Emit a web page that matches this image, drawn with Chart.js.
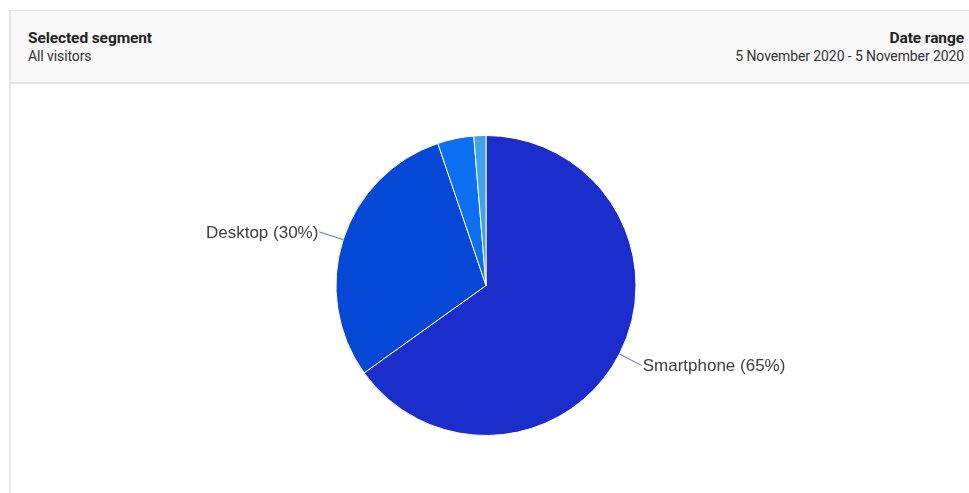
<!DOCTYPE html>
<html>
<head>
<meta charset="utf-8">
<script src="https://cdn.jsdelivr.net/npm/chart.js@4/dist/chart.umd.min.js"></script>
<style>
  html, body { margin: 0; padding: 0; background: #fff; }
  body { width: 969px; height: 493px; position: relative; overflow: hidden; font-family: Roboto, Arial, sans-serif; }
  .panel { position: absolute; left: 9px; top: 10px; width: 970px; height: 490px; border-left: 2px solid #e6e6e6; border-top: 1px solid #e6e6e6; }
  .header { height: 71px; background: #f8f8f8; border-bottom: 2px solid #e2e2e2; position: relative; }
  .seg { position: absolute; left: 17px; top: 18px; }
  .range { position: absolute; right: 17px; top: 18px; text-align: right; }
  .title { font-weight: bold; font-size: 15.5px; color: #222; line-height: 18px; letter-spacing: -0.1px; }
  .sub { font-size: 14px; color: #333; line-height: 18px; letter-spacing: -0.1px; }
  .chart-wrap { position: absolute; left: 11px; top: 84px; width: 958px; height: 409px; }
</style>
</head>
<body>
<div class="panel">
  <div class="header">
    <div class="seg"><div class="title">Selected segment</div><div class="sub">All visitors</div></div>
    <div class="range"><div class="title">Date range</div><div class="sub">5 November 2020 - 5 November 2020</div></div>
  </div>
</div>
<div class="chart-wrap"><canvas id="deviceChart"></canvas></div>
<script>
// Device share (percent)
const devices = ['Smartphone', 'Desktop', 'Tablet', 'Other'];
const shares = [65.1, 29.7, 3.9, 1.3];
const sliceColors = ['#1b2dca', '#0548d6', '#0b6ff0', '#3fa2ea'];

// Leader-line labels for the larger slices
const pieLabels = {
  id: 'pieLabels',
  afterDatasetsDraw(chart) {
    const { ctx } = chart;
    const meta = chart.getDatasetMeta(0);
    const total = shares.reduce((a, b) => a + b, 0);
    ctx.save();
    ctx.font = '17px "Liberation Sans", Arial, sans-serif';
    ctx.textBaseline = 'middle';
    meta.data.forEach((arc, i) => {
      const pct = shares[i] / total * 100;
      if (pct < 10) return;
      const { x, y, startAngle, endAngle, outerRadius } = arc.getProps(['x', 'y', 'startAngle', 'endAngle', 'outerRadius']);
      const mid = (startAngle + endAngle) / 2;
      const cos = Math.cos(mid), sin = Math.sin(mid);
      const x0 = x + cos * outerRadius, y0 = y + sin * outerRadius;
      const x1 = x + cos * (outerRadius + 25), y1 = y + sin * (outerRadius + 25);
      ctx.strokeStyle = '#4f6fc4';
      ctx.lineWidth = 1;
      ctx.beginPath();
      ctx.moveTo(x0, y0);
      ctx.lineTo(x1, y1);
      ctx.stroke();
      ctx.fillStyle = '#3f3f3f';
      const right = cos >= 0;
      ctx.textAlign = right ? 'left' : 'right';
      ctx.fillText(devices[i] + ' (' + Math.round(pct) + '%)', x1 + (right ? 1 : -1), y1 + 1);
    });
    ctx.restore();
  }
};

document.addEventListener('DOMContentLoaded', () => {
  const ctx = document.getElementById('deviceChart').getContext('2d');
  new Chart(ctx, {
    type: 'pie',
    data: {
      labels: devices,
      datasets: [{
        data: shares,
        backgroundColor: sliceColors,
        borderColor: '#ffffff',
        borderWidth: 1
      }]
    },
    options: {
      responsive: true,
      maintainAspectRatio: false,
      animation: false,
      layout: { padding: { top: 51, bottom: 57, left: 0, right: 8 } },
      plugins: {
        legend: { display: false },
        tooltip: { enabled: false }
      }
    },
    plugins: [pieLabels]
  });
});
</script>
</body>
</html>
